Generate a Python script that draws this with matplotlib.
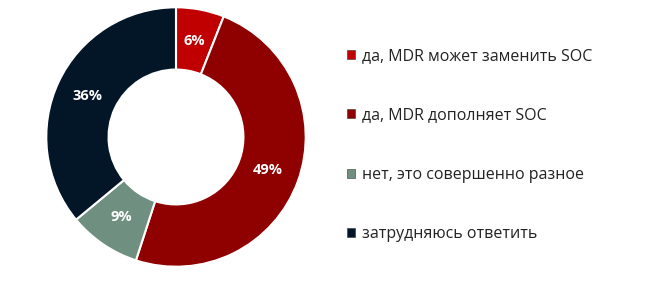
import matplotlib
matplotlib.use("Agg")
import matplotlib.pyplot as plt
from matplotlib.patches import Patch

plt.rcParams['font.family'] = ['Open Sans', 'DejaVu Sans']

labels = ["да, MDR может заменить SOC",
          "да, MDR дополняет SOC",
          "нет, это совершенно разное",
          "затрудняюсь ответить"]
values = [6, 49, 9, 36]
colors = ["#C00000", "#8F0000", "#6F8F80", "#021628"]

fig = plt.figure(figsize=(6.5, 2.92), dpi=100)
W, H = 650, 292
cx, cy, r = 176, 137, 131
ax = fig.add_axes([(cx - r) / W, (H - cy - r) / H, 2 * r / W, 2 * r / H])

wedges, texts, autotexts = ax.pie(
    values, colors=colors, startangle=90, counterclock=False,
    radius=1.0, autopct=lambda p: f"{p:.0f}%", pctdistance=0.75,
    wedgeprops=dict(width=0.48, edgecolor="white", linewidth=1.5),
    textprops=dict(color="white", fontsize=10.5, fontweight="bold"))
ax.set_xlim(-1.01, 1.01)
ax.set_ylim(-1.01, 1.01)
ax.set_aspect("equal")
ax.axis("off")

handles = [Patch(facecolor=c, edgecolor="#333333", linewidth=0.4) for c in colors]
fig.legend(handles, labels, loc="upper left", bbox_to_anchor=(347 / W, 1 - 48 / H),
           frameon=False, fontsize=11.5, labelcolor="#222222",
           handlelength=0.5, handleheight=0.5, handletextpad=0.45,
           labelspacing=2.72, borderpad=0, borderaxespad=0)

fig.savefig("out.png", dpi=100)
